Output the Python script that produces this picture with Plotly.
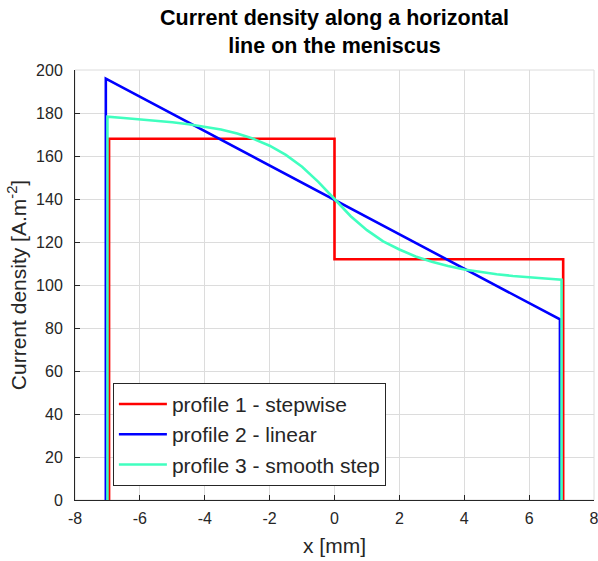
import plotly.graph_objects as go

# ---- data ----
# profile 1 - stepwise
step_x = [-6.95, -6.95, 0.0, 0.0, 7.05, 7.05]
step_y = [0, 168, 168, 112, 112, 0]

# profile 2 - linear
lin_x = [-7.05, -7.05, 6.95, 6.95]
lin_y = [0, 196, 84, 0]

# profile 3 - smooth step
smooth_x = [-7.0, -7.0, -6.5, -6.0, -5.5, -5.0, -4.5, -4.0, -3.5, -3.0, -2.5, -2.0, -1.5,
            -1.0, -0.5, 0.0, 0.5, 1.0, 1.5, 2.0, 2.5, 3.0, 3.5, 4.0, 4.5, 5.0, 5.5,
            6.0, 6.5, 7.0, 7.0]
smooth_y = [0, 178.3, 177.7, 177.1, 176.5, 175.7, 174.8, 173.7, 172.3, 170.5, 168.0, 164.8, 160.5,
            155.0, 148.0, 140.0, 132.0, 125.5, 120.3, 116.5, 113.3, 110.8, 108.8, 107.2, 106.0, 105.0, 104.2,
            103.5, 103.0, 102.5, 0]

names = ["profile 1 - stepwise", "profile 2 - linear", "profile 3 - smooth step"]
colors = ["#ff0000", "#0000ff", "#40ffbf"]

x_ticks = [-8, -6, -4, -2, 0, 2, 4, 6, 8]
y_ticks = [0, 20, 40, 60, 80, 100, 120, 140, 160, 180, 200]

FONT = "Liberation Sans, Arial, Helvetica, sans-serif"
DARK = "#262626"
GRID = "#dcdcdc"

fig = go.Figure()
for xs, ys, nm, c in zip([step_x, lin_x, smooth_x], [step_y, lin_y, smooth_y], names, colors):
    fig.add_trace(go.Scatter(x=xs, y=ys, mode="lines", name=nm,
                             line=dict(color=c, width=2.6)))

fig.update_layout(
    width=598, height=561,
    margin=dict(l=75, r=4, t=70, b=61),
    paper_bgcolor="white", plot_bgcolor="white",
    font=dict(family=FONT, color=DARK),
    title=dict(text="Current density along a horizontal<br>line on the meniscus",
               x=0.5, xref="paper", xanchor="center",
               y=1 - 25 / 561, yanchor="middle", pad=dict(t=0, b=0),
               font=dict(size=21.5, color="black", family=FONT, weight="bold")),
    showlegend=True,
    legend=dict(x=0.073, y=0.033, xanchor="left", yanchor="bottom",
                bgcolor="white", bordercolor=DARK, borderwidth=1,
                font=dict(size=21, color=DARK, family=FONT),
                itemwidth=48, tracegroupgap=0),
)
fig.update_xaxes(range=[-8, 8], tickvals=x_ticks, ticktext=[str(v) for v in x_ticks],
                 automargin=False, ticklabeloverflow="allow",
                 showgrid=True, gridcolor=GRID, gridwidth=1, zeroline=False,
                 showline=True, linecolor=DARK, linewidth=1,
                 ticks="inside", ticklen=5, tickcolor=DARK,
                 tickfont=dict(size=16, color=DARK), ticklabelstandoff=4,
                 title=dict(text="x [mm]", font=dict(size=21, color=DARK), standoff=12))
fig.update_yaxes(range=[0, 200], tickvals=y_ticks, ticktext=[str(v) for v in y_ticks],
                 automargin=True,
                 showgrid=True, gridcolor=GRID, gridwidth=1, zeroline=False,
                 showline=True, linecolor=DARK, linewidth=1,
                 ticks="inside", ticklen=5, tickcolor=DARK,
                 tickfont=dict(size=16, color=DARK), ticklabelstandoff=8,
                 title=dict(text="Current density [A.m<sup>-2</sup>]",
                            font=dict(size=21, color=DARK), standoff=3))
# light box on top/right
fig.add_shape(type="rect", xref="paper", yref="paper", x0=0, y0=0, x1=1, y1=1,
              line=dict(color=GRID, width=1), layer="below")

fig.write_html("out.html", config={"displayModeBar": False},
               post_script="document.body.style.margin='0';document.body.style.overflow='hidden';")
